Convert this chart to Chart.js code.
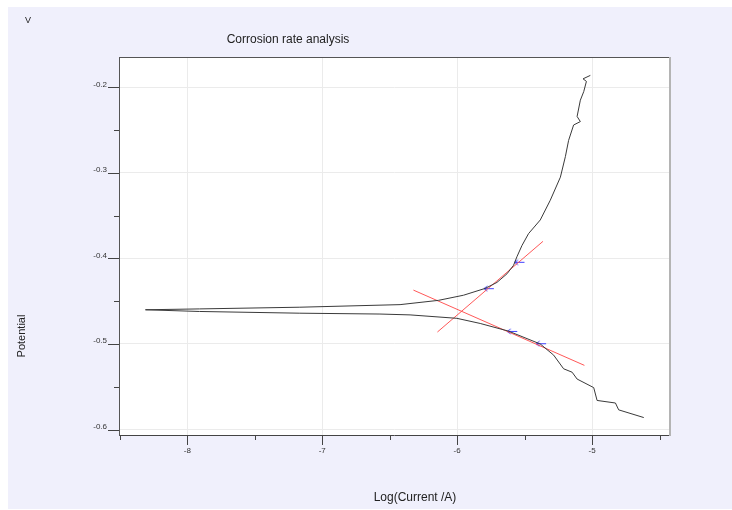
<!DOCTYPE html>
<html>
<head>
<meta charset="utf-8">
<script src="https://cdn.jsdelivr.net/npm/chart.js@4.4.0/dist/chart.umd.min.js"></script>
<style>
  html, body { margin: 0; padding: 0; background: #fff; }
  #wrap { width: 732px; height: 510px; }
</style>
</head>
<body>
<div id="wrap"><canvas id="tafelChart" width="732" height="510"></canvas></div>
<script>
// Polarisation curve (cathodic end -> Ecorr -> anodic end)
const curveX = [-4.617, -4.803, -4.827, -4.963, -4.988, -5.111, -5.148, -5.211, -5.285, -5.384,
                -5.619, -5.829, -6.002, -6.349, -6.572, -7.166, -7.910, -8.310,
                -7.910, -7.166, -6.423, -6.139, -5.953, -5.792, -5.705, -5.631, -5.582, -5.557,
                -5.520, -5.471, -5.384, -5.310, -5.235, -5.198, -5.174, -5.137, -5.087, -5.111,
                -5.087, -5.062, -5.042, -5.067, -5.013];
const curveY = [-0.586, -0.577, -0.569, -0.566, -0.551, -0.541, -0.533, -0.529, -0.513, -0.500,
                -0.485, -0.476, -0.470, -0.466, -0.465, -0.464, -0.462, -0.460,
                -0.459, -0.457, -0.454, -0.449, -0.443, -0.435, -0.428, -0.418, -0.408, -0.398,
                -0.385, -0.371, -0.355, -0.332, -0.305, -0.281, -0.262, -0.244, -0.240, -0.234,
                -0.215, -0.205, -0.193, -0.190, -0.186];

// Tafel fit lines
const anodicX = [-6.146, -5.364];
const anodicY = [-0.486, -0.380];
const cathodicX = [-6.324, -5.057];
const cathodicY = [-0.437, -0.525];

// fit range markers
const markX = [-5.538, -5.765, -5.592, -5.378];
const markY = [-0.4045, -0.4353, -0.4853, -0.4997];

// axis ticks
const xTicks = [-8.5, -8, -7.5, -7, -6.5, -6, -5.5, -5, -4.5];
const yTicks = [-0.6, -0.55, -0.5, -0.45, -0.4, -0.35, -0.3, -0.25, -0.2];

const toPts = (xs, ys) => xs.map((x, i) => ({ x: x, y: ys[i] }));
const isMajorX = v => Math.abs(v - Math.round(v)) < 1e-6;
const isMajorY = v => Math.abs(v * 10 - Math.round(v * 10)) < 1e-6;

// little blue left arrow used as point style
const arrow = document.createElement('canvas');
arrow.width = 12; arrow.height = 7;
(function () {
    const c = arrow.getContext('2d');
    c.strokeStyle = '#4040ff';
    c.lineWidth = 1;
    c.beginPath();
    c.moveTo(1, 3.5); c.lineTo(11, 3.5);
    c.moveTo(1, 3.5); c.lineTo(4.5, 1);
    c.moveTo(1, 3.5); c.lineTo(4.5, 6);
    c.stroke();
})();

const FONT = '"Liberation Sans", Arial, sans-serif';

const frame = {
    id: 'frame',
    beforeDraw(chart) {
        const ctx = chart.ctx, a = chart.chartArea;
        ctx.save();
        ctx.fillStyle = '#ffffff';
        ctx.fillRect(0, 0, chart.width, chart.height);
        ctx.fillStyle = '#f0f0fc';
        ctx.fillRect(8, 7, chart.width - 8, chart.height - 8);
        ctx.fillStyle = '#ffffff';
        ctx.fillRect(a.left, a.top, a.right - a.left, a.bottom - a.top);
        ctx.restore();
    },
    afterDraw(chart) {
        const ctx = chart.ctx, a = chart.chartArea;
        const xs = chart.scales.x, ys = chart.scales.y;
        ctx.save();
        // top and right border
        ctx.strokeStyle = '#555';
        ctx.lineWidth = 1;
        ctx.beginPath();
        ctx.moveTo(a.left, a.top + 0.5); ctx.lineTo(a.right, a.top + 0.5);
        ctx.stroke();
        ctx.strokeStyle = '#b4b4b4';
        ctx.lineWidth = 2;
        ctx.beginPath();
        ctx.moveTo(a.right + 1, a.top); ctx.lineTo(a.right + 1, a.bottom + 1);
        ctx.stroke();
        // tick marks
        ctx.strokeStyle = '#444';
        ctx.lineWidth = 1;
        ctx.beginPath();
        xTicks.forEach(v => {
            const px = Math.round(xs.getPixelForValue(v)) + 0.5;
            ctx.moveTo(px, a.bottom);
            ctx.lineTo(px, a.bottom + (isMajorX(v) ? 10 : 5));
        });
        yTicks.forEach(v => {
            const py = Math.round(ys.getPixelForValue(v)) + 0.5;
            ctx.moveTo(a.left, py);
            ctx.lineTo(a.left - (isMajorY(v) ? 11 : 5), py);
        });
        ctx.stroke();
        // texts
        ctx.fillStyle = '#222';
        ctx.textAlign = 'center';
        ctx.textBaseline = 'middle';
        ctx.font = '9px ' + FONT;
        ctx.fillText('V', 28, 21);
        ctx.font = '12px ' + FONT;
        ctx.fillText('Corrosion rate analysis', 288, 40);
        ctx.fillText('Log(Current /A)', 415, 498);
        ctx.translate(22, 336);
        ctx.rotate(-Math.PI / 2);
        ctx.font = '11px ' + FONT;
        ctx.fillText('Potential', 0, 0);
        ctx.restore();
    }
};

const ctx = document.getElementById('tafelChart').getContext('2d');
const chart = new Chart(ctx, {
    type: 'scatter',
    data: {
        datasets: [
            {
                data: toPts(curveX, curveY),
                showLine: true,
                borderColor: '#3a3a3a',
                borderWidth: 1,
                pointRadius: 0,
                tension: 0
            },
            {
                data: toPts(anodicX, anodicY),
                showLine: true,
                borderColor: 'rgba(255,70,70,0.9)',
                borderWidth: 1,
                pointRadius: 0
            },
            {
                data: toPts(cathodicX, cathodicY),
                showLine: true,
                borderColor: 'rgba(255,70,70,0.9)',
                borderWidth: 1,
                pointRadius: 0
            },
            {
                data: toPts(markX, markY),
                showLine: false,
                pointStyle: arrow,
                pointRadius: 6
            }
        ]
    },
    options: {
        responsive: false,
        animation: false,
        events: [],
        layout: { padding: { left: 59, right: 63, top: 57, bottom: 35 } },
        plugins: {
            legend: { display: false },
            tooltip: { enabled: false },
            title: { display: false }
        },
        scales: {
            x: {
                type: 'linear',
                min: -8.506,
                max: -4.43,
                afterBuildTicks: s => { s.ticks = xTicks.map(v => ({ value: v })); },
                afterFit: s => { s.height = 40; },
                grid: {
                    drawTicks: false,
                    color: c => (c.tick && isMajorX(c.tick.value)) ? '#ebebeb' : 'rgba(0,0,0,0)',
                    lineWidth: 1
                },
                border: { display: true, color: '#444', width: 1 },
                ticks: {
                    autoSkip: false,
                    maxRotation: 0,
                    padding: 11,
                    color: '#333',
                    font: { family: FONT, size: 8 },
                    callback: v => isMajorX(v) ? String(Math.round(v)) : ''
                }
            },
            y: {
                type: 'linear',
                min: -0.6064,
                max: -0.1645,
                afterBuildTicks: s => { s.ticks = yTicks.map(v => ({ value: v })); },
                afterFit: s => { s.width = 60; },
                grid: {
                    drawTicks: false,
                    color: c => (c.tick && isMajorY(c.tick.value)) ? '#ebebeb' : 'rgba(0,0,0,0)',
                    lineWidth: 1
                },
                border: { display: true, color: '#555', width: 1 },
                ticks: {
                    autoSkip: false,
                    padding: 12,
                    labelOffset: -3,
                    color: '#333',
                    font: { family: FONT, size: 8 },
                    callback: v => isMajorY(v) ? v.toFixed(1) : ''
                }
            }
        }
    },
    plugins: [frame]
});
</script>
</body>
</html>
